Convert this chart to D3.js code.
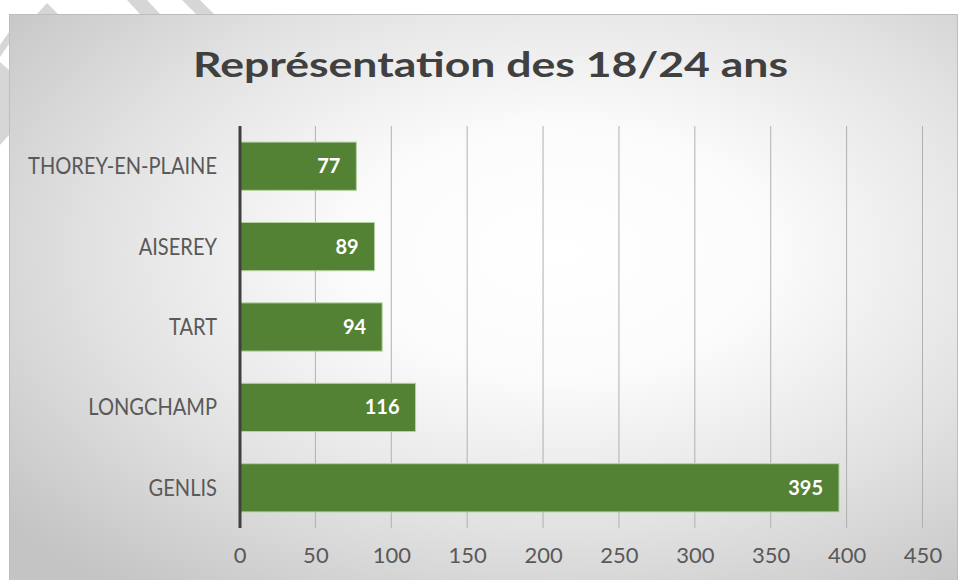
<!DOCTYPE html>
<html><head><meta charset="utf-8">
<script src="https://cdn.jsdelivr.net/npm/d3@7"></script>
<style>html,body{margin:0;padding:0;background:#fff;}svg{display:block;}</style>
</head><body>
<svg id="c" width="958" height="580"></svg>
<script>
const title = "Représentation des 18/24 ans";
const categories = ["THOREY-EN-PLAINE", "AISEREY", "TART", "LONGCHAMP", "GENLIS"];
const values = [77, 89, 94, 116, 395];
const ticks = [0, 50, 100, 150, 200, 250, 300, 350, 400, 450];

const svg = d3.select("#c");
const W = 958, H = 580;
const FONT = "Lato, 'Open Sans', sans-serif";

// watermark fragments outside the chart frame
const wm = svg.append("g").attr("fill", "#d6d6d6");
wm.append("path").attr("d", "M47,3 L58,14 L37,14 Z");
wm.append("path").attr("d", "M127,0 L147,0 L160,14 L140,14 Z");
wm.append("path").attr("d", "M182,0 L200,0 L214,14 L196,14 Z");
wm.append("path").attr("d", "M0,45 L9,32 L9,44 L0,57 Z");
wm.append("path").attr("d", "M0,62 L9,70 L9,135 L0,145 Z");

// background gradient
const defs = svg.append("defs");
const rg = defs.append("radialGradient").attr("id", "bg")
  .attr("cx", "58%").attr("cy", "42%").attr("r", "75%");
rg.append("stop").attr("offset", "0%").attr("stop-color", "#ffffff");
rg.append("stop").attr("offset", "30%").attr("stop-color", "#fbfbfb");
rg.append("stop").attr("offset", "65%").attr("stop-color", "#e2e2e2");
rg.append("stop").attr("offset", "100%").attr("stop-color", "#c4c4c4");

svg.append("rect").attr("x", 9.5).attr("y", 14.5).attr("width", W - 10).attr("height", H - 14)
  .attr("fill", "url(#bg)").attr("stroke", "#bdbdbd").attr("stroke-width", 1);

// title
const t = svg.append("text").attr("x", 490.5).attr("y", 77)
  .attr("text-anchor", "middle").attr("font-family", FONT).attr("font-weight", "bold")
  .attr("font-size", 35).attr("fill", "#404040").text(title);
t.attr("textLength", 595).attr("lengthAdjust", "spacingAndGlyphs");

// scales
const x = d3.scaleLinear().domain([0, 450]).range([239.5, 922.5]);
const y = d3.scaleBand().domain(categories).range([126, 528]).paddingInner(0.4).paddingOuter(0.2);

// gridlines
svg.append("g").selectAll("line").data(ticks.filter(d => d > 0)).join("line")
  .attr("x1", d => x(d)).attr("x2", d => x(d)).attr("y1", 126).attr("y2", 528)
  .attr("stroke", "#b0b0b0").attr("stroke-width", 1);

// bars
svg.append("g").selectAll("rect").data(values).join("rect")
  .attr("x", x(0)).attr("y", (d, i) => y(categories[i]))
  .attr("width", d => x(d) - x(0)).attr("height", y.bandwidth())
  .attr("fill", "#548235").attr("stroke", "#b5d3a0").attr("stroke-width", 1);

// data labels
svg.append("g").selectAll("text").data(values).join("text")
  .attr("x", d => x(d) - 16).attr("y", (d, i) => y(categories[i]) + y.bandwidth() / 2 + 7)
  .attr("text-anchor", "end").attr("font-family", FONT).attr("font-weight", "bold")
  .attr("font-size", 20).attr("fill", "#ffffff").text(d => d);

// vertical axis line
svg.append("line").attr("x1", 240).attr("x2", 240).attr("y1", 126).attr("y2", 528)
  .attr("stroke", "#404040").attr("stroke-width", 3);

// category labels (narrowed horizontally to mimic Calibri proportions)
const cl = svg.append("g").selectAll("text").data(categories).join("text")
  .attr("x", 0).attr("y", 0)
  .attr("text-anchor", "end").attr("font-family", FONT)
  .attr("font-size", 22.5).attr("fill", "#595959").text(d => d);
const lw = cl.nodes()[0].getComputedTextLength();
const sx = Math.max(0.8, Math.min(1.1, 189 / lw));
cl.attr("transform", d => `translate(217,${y(d) + y.bandwidth() / 2 + 8}) scale(${sx},1)`);

// tick labels
const xAxis = d3.axisBottom(x).tickValues(ticks).tickSize(0).tickPadding(0);
const ax = svg.append("g").attr("transform", "translate(0,547)").call(xAxis);
ax.select(".domain").remove();
ax.selectAll("text").attr("font-family", FONT).attr("font-size", 22).attr("fill", "#595959");
</script>
</body></html>
